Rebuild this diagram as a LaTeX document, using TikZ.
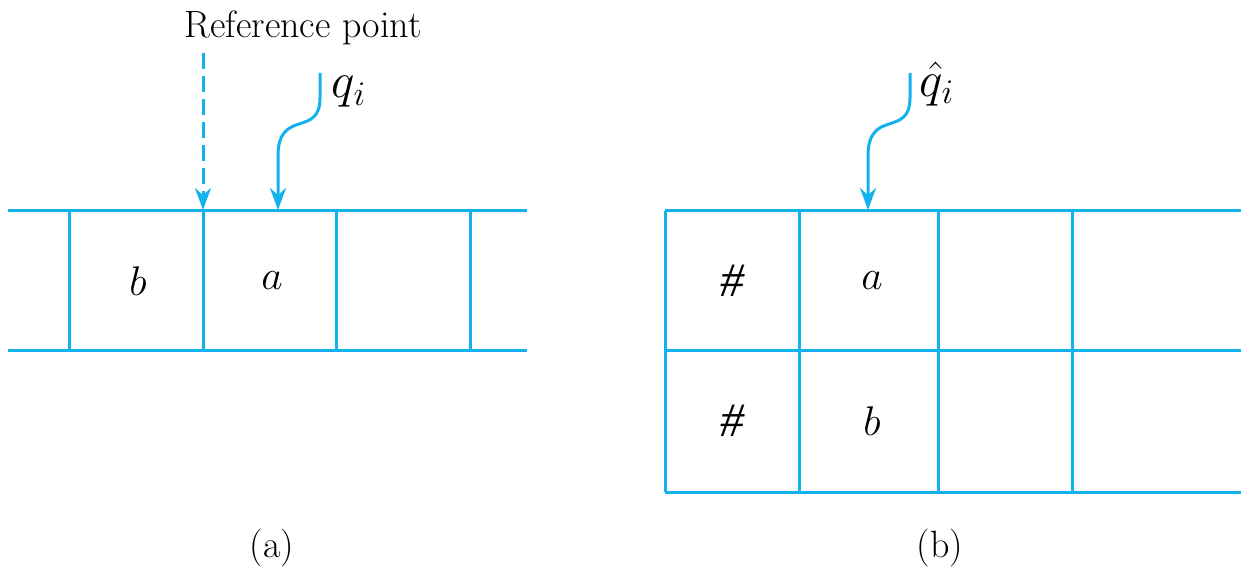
\documentclass[tikz,border=0pt]{standalone}
\usepackage{fontspec}
\newfontfamily\hashfont{Liberation Serif}
\usetikzlibrary{arrows.meta}
\definecolor{tapeblue}{RGB}{20,178,236}
\begin{document}
\begin{tikzpicture}[
  x=0.5pt, y=-0.5pt,
  tline/.style={tapeblue, line width=1.5pt},
  ptr/.style={-{Stealth[length=11pt, width=8pt]}, tapeblue, line width=1.5pt},
  sym/.style={font=\fontsize{20}{24}\selectfont},
  hash/.style={font=\fontsize{24}{28}\selectfont\hashfont\itshape},
  lbl/.style={font=\fontsize{19}{23}\selectfont},
  head/.style={font=\fontsize{23}{27}\selectfont},
]
\useasboundingbox (0,0) rectangle (1241,571);

%% ── (a) one-dimensional tape ─────────────────────────────────────
\draw[tline] (8,211) -- (527,211) (8,351) -- (527,351);
\foreach \x in {69,203,336,470}
  \draw[tline] (\x,211) -- (\x,351);

\node[sym] (cb) at (138,281) {$b$};
\node[sym] (ca) at (272,281) {$a$};

% reference point
\node[lbl] (rp) at (303,28) {Reference point};
\coordinate (rptop) at (203,53);
\coordinate (rpend) at (203,210);
\draw[ptr, dash pattern=on 8pt off 3.5pt] (rptop) -- (rpend);

% head q_i
\node[head] (qa) at (349,92) {$q_i$};
\coordinate (qatop) at (320,73);
\coordinate (qaend) at (278,210);
\draw[ptr] (qatop) -- (320,98) .. controls (320,138) and (278,108) .. (278,156) -- (qaend);

\node[lbl] (capa) at (272,548) {(a)};

%% ── (b) two-track tape ───────────────────────────────────────────
\draw[tline] (665,211) -- (1241,211) (665,351) -- (1241,351) (665,492) -- (1241,492);
\foreach \x in {665,799,938,1072}
  \draw[tline] (\x,211) -- (\x,492);

\node[hash] (h1) at (732,281) {\#};
\node[sym] (ra) at (872,281) {$a$};
\node[hash] (h2) at (732,421) {\#};
\node[sym] (rb) at (872,421) {$b$};

% head hat q_i
\node[head] (qb) at (937,84) {$\hat{q}_i$};
\coordinate (qbtop) at (910,73);
\coordinate (qbend) at (868,210);
\draw[ptr] (qbtop) -- (910,98) .. controls (910,138) and (868,108) .. (868,156) -- (qbend);

\node[lbl] (capb) at (940,548) {(b)};

\end{tikzpicture}
\end{document}
